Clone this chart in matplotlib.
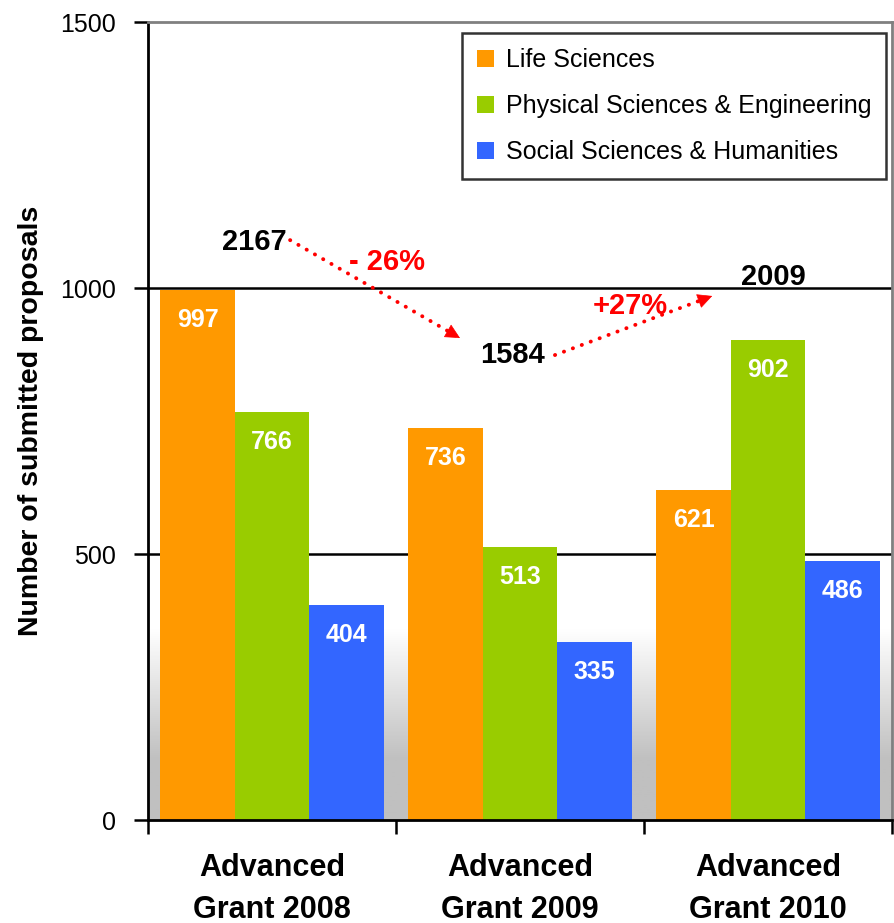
import numpy as np
import matplotlib.pyplot as plt
from matplotlib.colors import LinearSegmentedColormap

plt.rcParams['font.family'] = ['Liberation Sans', 'DejaVu Sans']

# data
groups = ["Advanced\nGrant 2008", "Advanced\nGrant 2009", "Advanced\nGrant 2010"]
series = ["Life Sciences", "Physical Sciences & Engineering", "Social Sciences & Humanities"]
life = [997, 736, 621]
physical = [766, 513, 902]
social = [404, 335, 486]
change_labels = ["- 26%", "+27%"]

colors = ["#FF9900", "#99CC00", "#3366FF"]
values = [life, physical, social]
totals = [a + b + c for a, b, c in zip(life, physical, social)]

# layout for the total labels / arrows (x in category units, y in data units)
total_pos = [(-0.07, 1086), (0.97, 874), (2.02, 1021)]
arrow_pos = [((0.073, 1090), (0.758, 906)), ((1.141, 874), (1.775, 985))]
change_pos = [(0.464, 1049), (1.444, 966)]

fig = plt.figure(figsize=(8.94, 9.23), dpi=100)
ax = fig.add_axes([148 / 894, 103 / 923, 744 / 894, 798 / 923])

x = np.arange(len(groups))
width = 0.3

# grey gradient at the bottom of the plot area
yy = np.linspace(0, 1500, 600)
grad = np.clip((357 - yy) / (357 - 113), 0, 1)[:, None]
cmap = LinearSegmentedColormap.from_list("bg", ["#FFFFFF", "#C0C0C0"])
ax.imshow(grad, extent=[-0.5, 2.5, 0, 1500], origin="lower", aspect="auto",
          cmap=cmap, vmin=0, vmax=1, zorder=0)

for v in [500, 1000]:
    ax.axhline(v, color="black", lw=1.8, zorder=1)

for i, (vals, name, col) in enumerate(zip(values, series, colors)):
    pos = x + (i - 1) * width
    bars = ax.bar(pos, vals, width, color=col, label=name, zorder=2)
    for b, v in zip(bars, vals):
        ax.annotate(str(v), (b.get_x() + b.get_width() / 2, v), xytext=(0, -30),
                    textcoords="offset pixels", ha="center", va="center",
                    color="white", fontsize=18, fontweight="bold", zorder=3)

for t, (tx, ty) in zip(totals, total_pos):
    ax.text(tx, ty, str(t), ha="center", va="center", fontsize=21,
            fontweight="bold", color="black", zorder=4)

# dotted red arrows with solid heads
for (p0, p1) in arrow_pos:
    ax.plot([p0[0], p1[0]], [p0[1], p1[1]], color="red", lw=2.8,
            linestyle=(0, (0.05, 2.4)), dash_capstyle="round", zorder=4)
    d = np.array(p1) - np.array(p0)
    back = np.array(p1) - d * 0.06
    ax.annotate("", xy=p1, xytext=tuple(back),
                arrowprops=dict(arrowstyle="-|>", color="red", lw=0.5,
                                mutation_scale=24, shrinkA=0, shrinkB=0),
                zorder=4)

for lab, (tx, ty) in zip(change_labels, change_pos):
    ax.text(tx, ty, lab, ha="center", va="center", fontsize=21,
            fontweight="bold", color="red", zorder=4)

ax.set_xlim(-0.5, 2.5)
ax.set_ylim(0, 1500)
ax.set_yticks([0, 500, 1000, 1500])
ax.tick_params(axis="y", direction="out", length=10, width=1.8, labelsize=18, pad=13)
ax.set_xticks(x)
ax.set_xticklabels(groups, fontsize=22, fontweight="bold", linespacing=1.5)
ax.set_xticks([-0.5, 0.5, 1.5, 2.5], minor=True)
ax.tick_params(axis="x", which="major", length=0, pad=24)
ax.tick_params(axis="x", which="minor", direction="out", length=10, width=1.8)

ax.set_ylabel("Number of submitted proposals", fontsize=20.5, fontweight="bold", labelpad=12)

for s in ["left", "bottom"]:
    ax.spines[s].set_color("black")
    ax.spines[s].set_linewidth(2)
for s in ["top", "right"]:
    ax.spines[s].set_color("#808080")
    ax.spines[s].set_linewidth(2)

leg = ax.legend(loc="upper right", bbox_to_anchor=(0.992, 0.986), borderaxespad=0,
                fontsize=18, frameon=True, fancybox=False, handlelength=0.7,
                handleheight=0.7, handletextpad=0.45, labelspacing=0.88,
                borderpad=0.6)
leg.get_frame().set_edgecolor("black")
leg.get_frame().set_linewidth(1.8)
leg.set_zorder(5)

fig.savefig("out.png", dpi=100)
